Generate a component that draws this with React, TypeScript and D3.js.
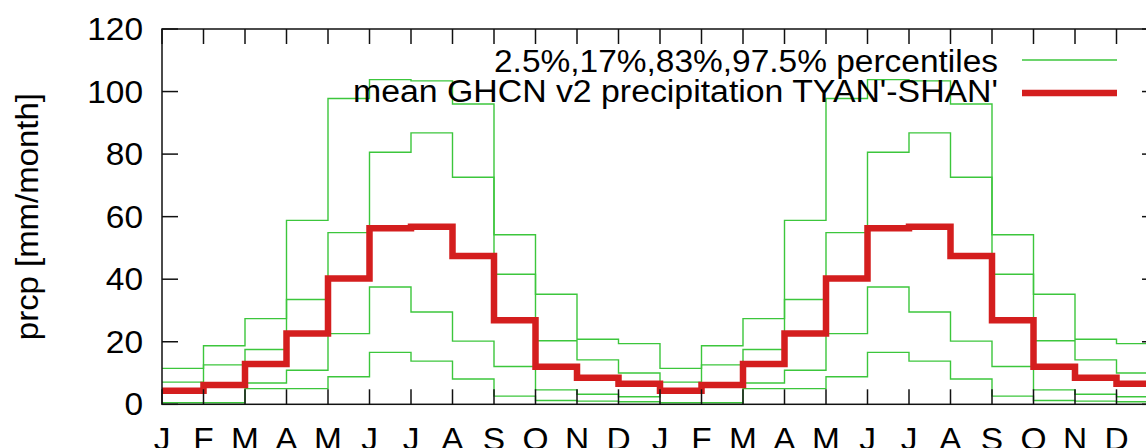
import React from "react";
import * as d3 from "d3";

const months = ["J", "F", "M", "A", "M", "J", "J", "A", "S", "O", "N", "D"];
const meanPrcp = [4.3, 6.2, 12.9, 22.6, 40.2, 56.3, 56.8, 47.4, 26.9, 12.0, 8.5, 6.6];
const p975 = [11.5, 18.7, 27.4, 58.8, 97.8, 103.8, 103.4, 96.0, 54.2, 35.2, 20.8, 19.4];
const p83 = [7.1, 12.6, 17.5, 33.5, 54.9, 80.6, 86.8, 72.6, 41.6, 20.3, 14.2, 10.0];
const p17 = [4.0, 5.5, 6.8, 10.9, 22.6, 37.5, 29.5, 20.2, 12.1, 4.6, 3.2, 2.4];
const p025 = [0.5, 0.5, 5.0, 5.0, 8.8, 16.6, 13.8, 8.1, 2.6, 1.2, 1.0, 0.8];
const yTicks = [0, 20, 40, 60, 80, 100, 120];
const nYears = 2;
const legendPct = "2.5%,17%,83%,97.5% percentiles";
const legendMean = "mean GHCN v2 precipitation TYAN'-SHAN'";
const yTitle = "prcp [mm/month]";

const W = 1146;
const H = 448;
const L = 162;
const R = 1158;
const T = 29;
const B = 404.3;

const GREEN = "#3cc63c";
const RED = "#d41e1e";
const FONT = "'Liberation Sans', Arial, Helvetica, sans-serif";
const SX = 1.08;

export default function App() {
  const n = months.length * nYears;
  const x = d3.scaleLinear().domain([0, n]).range([L, R]);
  const y = d3.scaleLinear().domain([0, 120]).range([B, T]);

  const rep = (arr: number[]) => {
    const out: number[] = [];
    for (let k = 0; k < nYears; k++) out.push(...arr);
    return out;
  };
  const stepLine = d3
    .line<[number, number]>()
    .x((d) => x(d[0]))
    .y((d) => y(d[1]))
    .curve(d3.curveStepAfter);
  const pathFor = (arr: number[]) => {
    const vals = rep(arr);
    const pts: [number, number][] = vals.map((v, i) => [i, v]);
    pts.push([n, vals[vals.length - 1]]);
    return stepLine(pts) || "";
  };

  const xTickIdx = d3.range(0, n + 1);
  const labels = rep(months);

  return (
    <svg
      width={W}
      height={H}
      style={{ position: "absolute", left: 0, top: 0, background: "#fff" }}
      fontFamily={FONT}
    >
      <rect x={0} y={0} width={W} height={H} fill="#fff" />
      {/* percentile lines */}
      {[p025, p17, p83, p975].map((arr, i) => (
        <path key={i} d={pathFor(arr)} fill="none" stroke={GREEN} strokeWidth={1.4} />
      ))}
      {/* mean */}
      <path d={pathFor(meanPrcp)} fill="none" stroke={RED} strokeWidth={6.5} strokeLinejoin="miter" />

      {/* border */}
      <rect x={L} y={T} width={R - L} height={B - T} fill="none" stroke="#111" strokeWidth={1.5} />
      {/* x ticks */}
      {xTickIdx.map((i) => (
        <g key={i}>
          <line x1={x(i)} x2={x(i)} y1={B} y2={B - 15} stroke="#111" strokeWidth={1.5} />
          <line x1={x(i)} x2={x(i)} y1={T} y2={T + 15} stroke="#111" strokeWidth={1.5} />
        </g>
      ))}
      {labels.map((m, i) => (
        <text
          key={i}
          transform={`translate(${x(i)},450) scale(${SX},1)`}
          fontSize={31}
          textAnchor="middle"
          fill="#000"
        >
          {m}
        </text>
      ))}
      {/* y ticks */}
      {yTicks.map((v) => (
        <g key={v}>
          <line x1={L} x2={L + 16} y1={y(v)} y2={y(v)} stroke="#111" strokeWidth={1.5} />
          <line x1={R} x2={R - 16} y1={y(v)} y2={y(v)} stroke="#111" strokeWidth={1.5} />
          <text
            transform={`translate(143,${y(v) + 11}) scale(${SX},1)`}
            fontSize={31}
            textAnchor="end"
            fill="#000"
          >
            {v}
          </text>
        </g>
      ))}
      {/* y title */}
      <text
        transform={`translate(38,${(T + B) / 2}) rotate(-90)`}
        fontSize={31}
        textAnchor="middle"
        textLength={247}
        lengthAdjust="spacingAndGlyphs"
        fill="#000"
      >
        {yTitle}
      </text>

      {/* legend */}
      <text
        x={998}
        y={72}
        fontSize={31}
        textAnchor="end"
        textLength={504}
        lengthAdjust="spacingAndGlyphs"
        fill="#000"
      >
        {legendPct}
      </text>
      <line x1={1022} x2={1117} y1={60} y2={60} stroke={GREEN} strokeWidth={1.4} />
      <text
        x={998}
        y={102}
        fontSize={31}
        textAnchor="end"
        textLength={645}
        lengthAdjust="spacingAndGlyphs"
        fill="#000"
      >
        {legendMean}
      </text>
      <line x1={1022} x2={1117} y1={93} y2={93} stroke={RED} strokeWidth={6.5} />
    </svg>
  );
}
